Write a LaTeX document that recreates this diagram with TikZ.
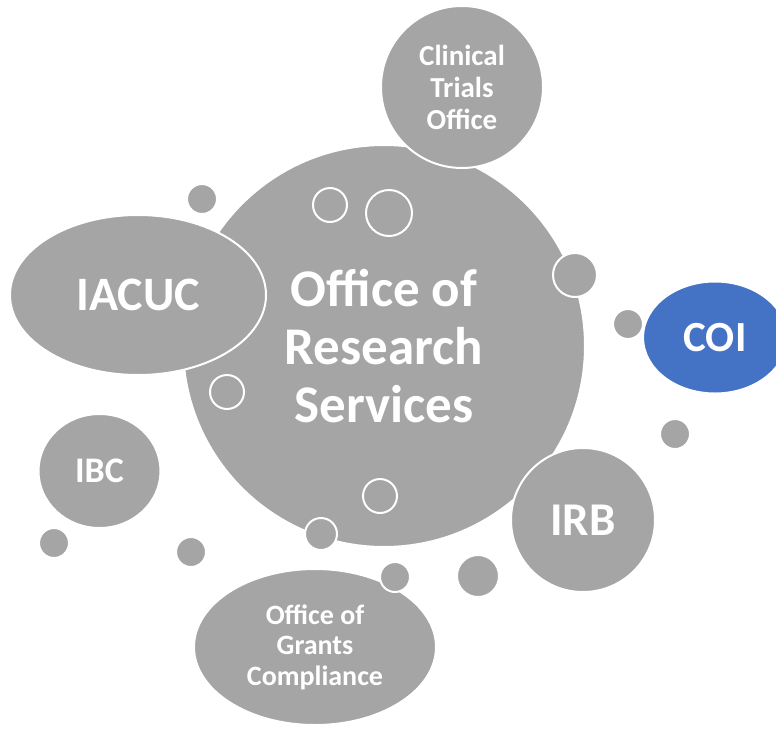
\documentclass[tikz,border=0pt]{standalone}
\usepackage{fontspec}
\setmainfont{Carlito}
\usetikzlibrary{shapes.geometric}
\definecolor{bub}{HTML}{A5A5A5}
\definecolor{coiblue}{HTML}{4472C4}
\begin{document}
\begin{tikzpicture}[x=1pt,y=-1pt,
  bubble/.style={circle,fill=bub,draw=white,line width=2pt,inner sep=0pt,text=white,align=center},
  oval/.style={ellipse,fill=bub,draw=white,line width=2pt,inner sep=0pt,text=white,align=center},
  ring/.style={circle,draw=white,line width=2pt,inner sep=0pt},
  dot/.style={circle,fill=bub,draw=white,line width=2pt,inner sep=0pt,minimum size=30pt}]
\useasboundingbox (0,0) rectangle (776,728);
\clip (0,0) rectangle (776,728);
% central circle
\node[bubble,minimum size=402pt,font=\fontsize{53}{58}\selectfont\bfseries] (ors) at (384,346) {Office of\\Research\\Services};
% satellites
\node[dot] (d1) at (202,199) {};
\node[bubble,minimum size=162pt,font=\fontsize{29}{32}\selectfont\bfseries] (cto) at (462,87) {Clinical\\Trials\\Office};
\node[oval,minimum width=256pt,minimum height=160pt,font=\fontsize{48}{52}\selectfont\bfseries] (iacuc) at (138,295) {IACUC};
\node[oval,minimum width=122pt,minimum height=114pt,font=\fontsize{36}{40}\selectfont\bfseries] (ibc) at (99.5,471) {IBC};
\node[bubble,minimum size=144pt,font=\fontsize{47}{50}\selectfont\bfseries] (irb) at (583,520) {IRB};
\node[oval,fill=coiblue,minimum width=144pt,minimum height=112pt,font=\fontsize{43}{46}\selectfont\bfseries] (coi) at (715,337.5) {COI};
\node[oval,minimum width=242pt,minimum height=156pt,font=\fontsize{28}{30.5}\selectfont\bfseries] (ogc) at (315,647) {Office of\\Grants\\Compliance};
% small dots
\node[dot,minimum size=44pt] (d2) at (575,275) {};
\node[dot,minimum size=32pt] (d3) at (321,534) {};
\node[dot] (d4) at (628,324) {};
\node[dot] (d5) at (675,434) {};
\node[dot] (d6) at (54,543) {};
\node[dot] (d7) at (191,552) {};
\node[dot,minimum size=42pt] (d8) at (478,576) {};
\node[dot] (d9) at (395,577) {};
% hollow rings
\node[ring,minimum size=34pt] (r1) at (330,205) {};
\node[ring,minimum size=46pt] (r2) at (389,213) {};
\node[ring,minimum size=34pt] (r3) at (227,392) {};
\node[ring,minimum size=34pt] (r4) at (380,496) {};
\end{tikzpicture}
\end{document}
